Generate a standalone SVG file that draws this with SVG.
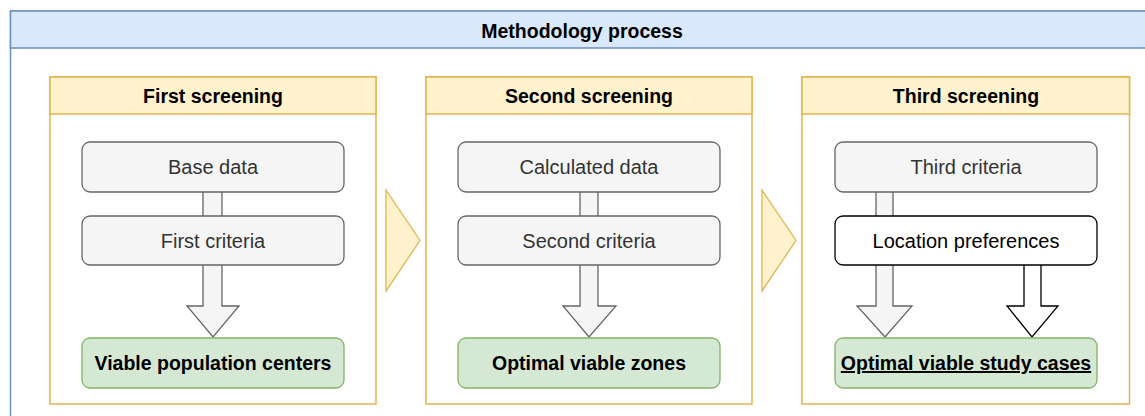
<svg xmlns="http://www.w3.org/2000/svg" width="1145" height="416" viewBox="0 0 1145 416">
<style>
text{font-family:"Liberation Sans",Arial,sans-serif;font-size:19.5px;text-anchor:middle}
.b{font-weight:bold;fill:#000}
.g{fill:#333333;font-size:20px}
.k{fill:#000;font-size:20px}
.outer{fill:#ffffff;stroke:#6c8ebf;stroke-width:1.5}
.ohead{fill:#dae8fc;stroke:#6c8ebf;stroke-width:1.5}
.lane{fill:#ffffff;stroke:#e3b44f;stroke-width:1.5}
.lhead{fill:#fff2cc;stroke:#e3b44f;stroke-width:1.5}
.grey{fill:#f5f5f5;stroke:#666666;stroke-width:1.3}
.white{fill:#ffffff;stroke:#000000;stroke-width:1.3}
.green{fill:#d5e8d4;stroke:#82b366;stroke-width:1.3}
.tri{fill:#fff2cc;stroke:#e3b44f;stroke-width:1.3}
.arr{fill:#f5f5f5;stroke:#666666;stroke-width:1.3}
.arrw{fill:#ffffff;stroke:#000000;stroke-width:1.3}
</style>
<g id="container">
<rect class="outer" x="10.5" y="11" width="1150" height="420"/>
<rect class="ohead" x="10.5" y="11" width="1150" height="37"/>
<text class="b" x="582" y="37.5">Methodology process</text>
</g>
<g id="lane1">
<rect class="lane" x="50" y="77" width="326" height="327"/>
<rect class="lhead" x="50" y="77" width="326" height="37"/>
<text class="b" x="213" y="103">First screening</text>
</g>
<g id="lane2">
<rect class="lane" x="426" y="77" width="326" height="327"/>
<rect class="lhead" x="426" y="77" width="326" height="37"/>
<text class="b" x="589" y="103">Second screening</text>
</g>
<g id="lane3">
<rect class="lane" x="802" y="77" width="327.5" height="327"/>
<rect class="lhead" x="802" y="77" width="327.5" height="37"/>
<text class="b" x="966" y="103">Third screening</text>
</g>
<g id="connectors">
<polygon class="tri" points="386,190 420,240.5 386,291"/>
<polygon class="tri" points="762,190 796,240.5 762,291"/>
<polygon class="arr" points="203,190 222,190 222,306 239,306 213,337 187,306 203,306"/>
<polygon class="arr" points="580,190 598,190 598,306 616,306 589,337 563,306 580,306"/>
<polygon class="arr" points="876,190 893,190 893,306 912,306 885,337 857,306 876,306"/>
<polygon class="arrw" points="1024,263 1041,263 1041,306 1058,306 1032,337 1007,306 1024,306"/>
</g>
<g id="base-data">
<rect class="grey" x="82" y="142" width="262" height="50" rx="8"/>
<text class="g" x="213" y="174">Base data</text>
</g>
<g id="first-criteria">
<rect class="grey" x="82" y="216" width="262" height="49" rx="8"/>
<text class="g" x="213" y="247.5">First criteria</text>
</g>
<g id="viable-population-centers">
<rect class="green" x="82" y="338" width="262" height="50" rx="8"/>
<text class="b" x="213" y="370">Viable population centers</text>
</g>
<g id="calculated-data">
<rect class="grey" x="458" y="142" width="262" height="50" rx="8"/>
<text class="g" x="589" y="174">Calculated data</text>
</g>
<g id="second-criteria">
<rect class="grey" x="458" y="216" width="262" height="49" rx="8"/>
<text class="g" x="589" y="247.5">Second criteria</text>
</g>
<g id="optimal-viable-zones">
<rect class="green" x="458" y="338" width="262" height="50" rx="8"/>
<text class="b" x="589" y="370">Optimal viable zones</text>
</g>
<g id="third-criteria">
<rect class="grey" x="835" y="142" width="262" height="50" rx="8"/>
<text class="g" x="966" y="174">Third criteria</text>
</g>
<g id="location-preferences">
<rect class="white" x="835" y="216" width="262" height="49" rx="8"/>
<text class="k" x="966" y="247.5">Location preferences</text>
</g>
<g id="optimal-viable-study-cases">
<rect class="green" x="835" y="338" width="262" height="50" rx="8"/>
<text class="b" x="966" y="370" text-decoration="underline">Optimal viable study cases</text>
</g>
</svg>
